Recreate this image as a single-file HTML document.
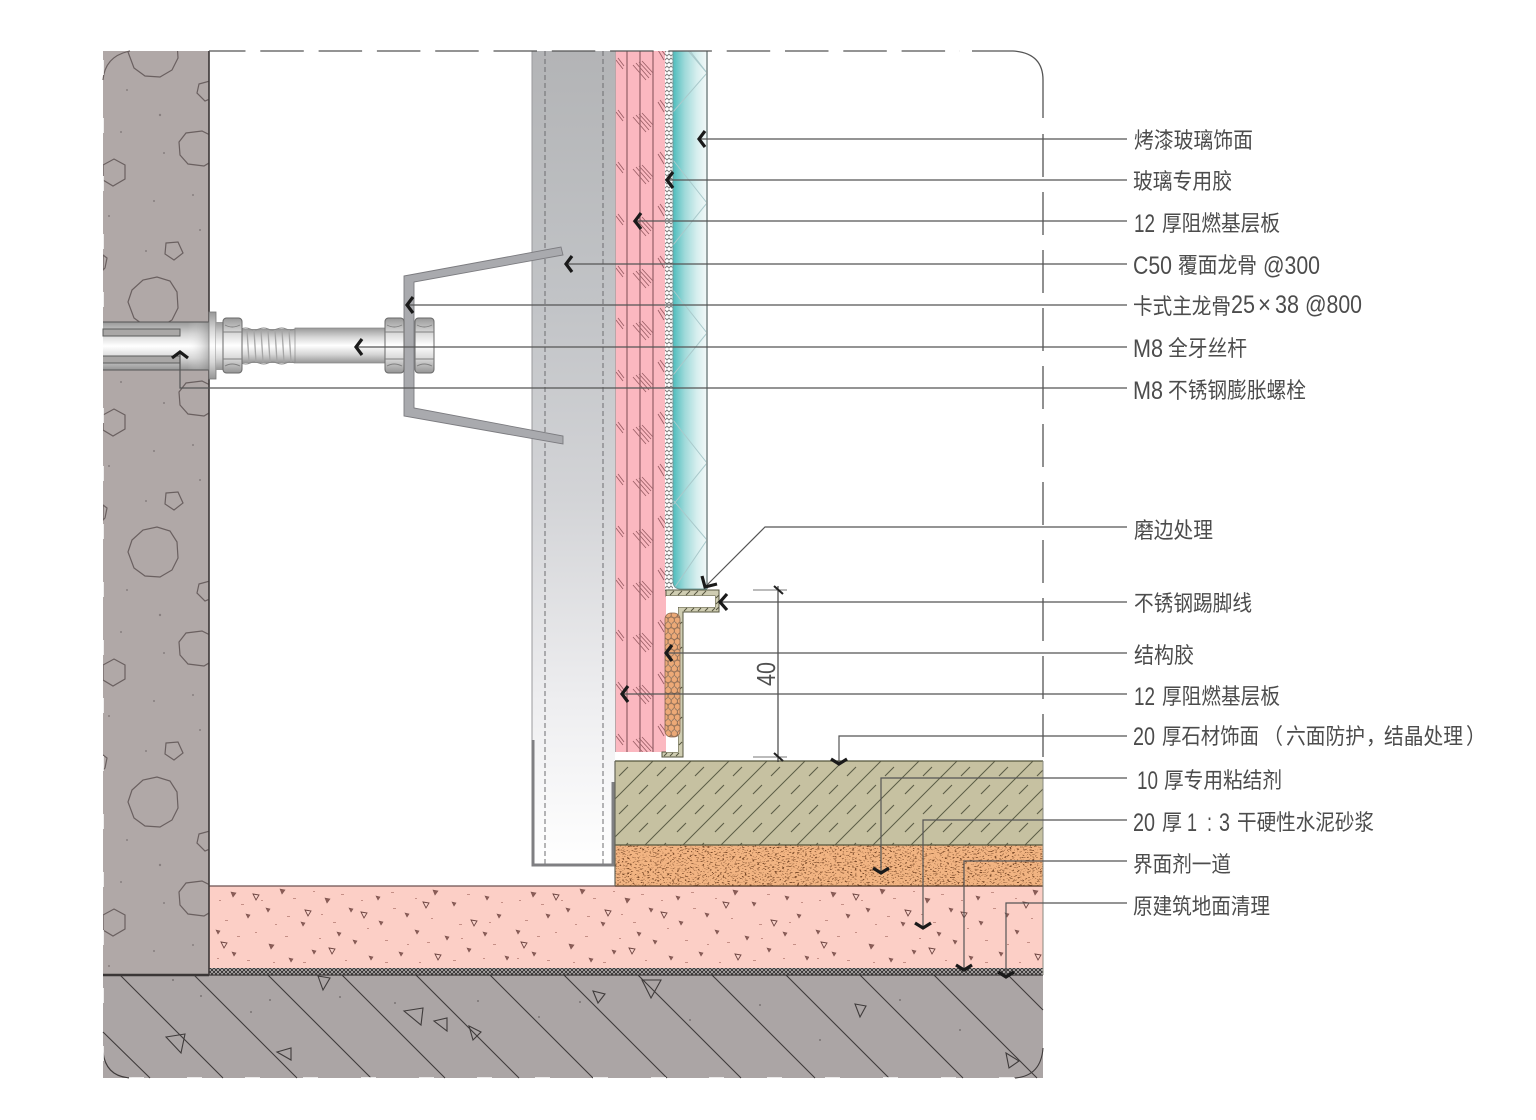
<!DOCTYPE html>
<html lang="zh">
<head>
<meta charset="utf-8">
<title>Wall base detail</title>
<style>
html,body{margin:0;padding:0;background:#fff;width:1536px;height:1120px;overflow:hidden}
svg{display:block}
.l text,.l{font-family:"Liberation Sans","Noto Sans CJK SC",sans-serif;font-size:22px;fill:#4c4c4c}
.l .n{font-family:"Liberation Sans",sans-serif;font-size:25px}
.lead{fill:none;stroke:#555;stroke-width:1.2}
.ar{fill:none;stroke:#1a1a1a;stroke-width:3.2}
</style>
</head>
<body>
<svg width="1536" height="1120" viewBox="0 0 1536 1120" xmlns="http://www.w3.org/2000/svg">
<defs>
<linearGradient id="steel" x1="0" y1="51" x2="0" y2="866" gradientUnits="userSpaceOnUse">
<stop offset="0" stop-color="#b3b4b6"/><stop offset=".3" stop-color="#c1c3c6"/><stop offset=".55" stop-color="#d3d4d7"/><stop offset=".8" stop-color="#eeeef0"/><stop offset="1" stop-color="#ffffff"/>
</linearGradient>
<linearGradient id="glass" x1="673" y1="0" x2="707" y2="0" gradientUnits="userSpaceOnUse">
<stop offset="0" stop-color="#4dbdbd"/><stop offset=".35" stop-color="#a0dada"/><stop offset=".7" stop-color="#d6eeee"/><stop offset="1" stop-color="#f3f9f9"/>
</linearGradient>
<linearGradient id="bolt" x1="0" y1="0" x2="0" y2="1">
<stop offset="0" stop-color="#989898"/><stop offset=".25" stop-color="#d4d4d4"/><stop offset=".5" stop-color="#ffffff"/><stop offset=".75" stop-color="#d6d6d6"/><stop offset="1" stop-color="#959595"/>
</linearGradient>
<linearGradient id="sleeveH" x1="0" y1="0" x2="1" y2="0">
<stop offset="0" stop-color="#ffffff" stop-opacity="0"/><stop offset=".8" stop-color="#ffffff" stop-opacity="0"/><stop offset="1" stop-color="#8a8a8a" stop-opacity=".5"/>
</linearGradient>
<pattern id="stoneP" width="38" height="38" patternUnits="userSpaceOnUse" x="615" y="761">
<path d="M-2 40 L40 -2 M-2 2 L2 -2 M36 40 L40 36" stroke="#5c5d46" stroke-width="1" fill="none"/>
<path d="M13 6 L4 15 M33 24 L24 33" stroke="#5c5d46" stroke-width="1.1" fill="none"/>
</pattern>
<pattern id="tickP" width="51" height="52" patternUnits="userSpaceOnUse" x="615" y="40">
<g stroke="#9c5f66" stroke-width=".9" fill="none">
<path d="M18 25 L31 40 M21 23 L34 38 M24 22 L36 35 M27 21 L38 33"/>
<path d="M1 20 L8 29 M3 18 L9 26"/>
<path d="M43 10 L49 20 M45 8 L51 16"/>
</g>
</pattern>
<pattern id="glueP" width="12.4" height="10.8" patternUnits="userSpaceOnUse" x="665" y="612">
<rect width="12.4" height="10.8" fill="#e4bd9d"/>
<g fill="#eca977" stroke="#8b6a52" stroke-width=".7">
<circle cx="3.1" cy="2.7" r="3.1"/><circle cx="9.3" cy="2.7" r="3.1"/><circle cx="0" cy="8.1" r="3.1"/><circle cx="6.2" cy="8.1" r="3.1"/><circle cx="12.4" cy="8.1" r="3.1"/>
</g>
</pattern>
<pattern id="dotP" width="8" height="8" patternUnits="userSpaceOnUse" x="665" y="51">
<rect width="8" height="8" fill="#5c5c5c"/>
<g fill="#fff"><circle cx="2" cy="2" r="1.9"/><circle cx="6" cy="2" r="1.9"/><circle cx="4" cy="6" r="1.9"/><circle cx="0" cy="6" r="1.9"/><circle cx="8" cy="6" r="1.9"/></g>
</pattern>
<pattern id="layerP" width="4" height="4" patternUnits="userSpaceOnUse" x="209" y="969">
<rect width="4" height="4" fill="#3f3c3c"/><circle cx="1" cy="1" r=".9" fill="#e6e2e0"/><circle cx="3" cy="3" r=".9" fill="#e6e2e0"/>
</pattern>
<pattern id="pinkP" width="300" height="82" patternUnits="userSpaceOnUse" x="209" y="886">
<g fill="#8c5c56" stroke="#7d5550" stroke-width=".6">
<path d="M22 6l5 1-3 4zM71 3l5 1-3 4zM116 12l5 1-3 4zM57 22l4 1-2 3zM37 28l4 1-2 3zM7 44l4 1-2 3zM92 36l4 1-2 3zM140 22l4 1-2 3zM167 10l4 1-2 3zM196 27l4 1-2 3zM224 4l5 1-3 4zM243 16l4 1-2 3zM276 10l4 1-2 3zM170 35l4 1-2 3zM128 46l4 1-2 3zM60 58l5 1-3 4zM23 66l4 1-2 3zM103 64l4 1-2 3zM144 54l4 1-2 3zM206 44l4 1-2 3zM236 50l4 1-2 3zM274 46l4 1-2 3zM288 28l4 1-2 3zM258 62l4 1-2 3zM190 66l4 1-2 3zM160 70l4 1-2 3zM80 72l4 1-2 3zM296 70l4 1-2 3z"/>
</g>
<g fill="#fbd4cc" stroke="#6d4440" stroke-width=".9">
<path d="M44 8l6 1-3 5zM96 24l6 1-3 5zM152 26l6 1-3 5zM12 56l6 1-3 5zM214 16l6 1-3 5zM262 34l6 1-3 5zM120 62l6 1-3 5zM226 68l6 1-3 5z"/>
</g>
<g fill="#c58f86">
<path d="M10 14h2v1h-2zM32 18h3v1h-3zM52 14h2v1h-2zM84 12h3v1h-3zM104 5h2v1h-2zM132 8h3v1h-3zM152 14h2v1h-2zM182 6h3v1h-3zM206 12h2v1h-2zM258 8h3v1h-3zM292 16h2v1h-2zM16 34h3v1h-3zM66 38h2v1h-2zM78 30h3v1h-3zM112 28h2v1h-2zM124 36h3v1h-3zM158 42h2v1h-2zM184 22h3v1h-3zM222 32h2v1h-2zM250 38h3v1h-3zM280 36h2v1h-2zM28 50h3v1h-3zM46 46h2v1h-2zM76 50h3v1h-3zM110 52h2v1h-2zM176 54h3v1h-3zM198 58h2v1h-2zM218 56h3v1h-3zM252 52h2v1h-2zM284 58h3v1h-3zM8 72h2v1h-2zM38 74h3v1h-3zM64 76h2v1h-2zM94 76h3v1h-3zM136 74h2v1h-2zM176 76h3v1h-3zM210 76h2v1h-2zM244 74h3v1h-3zM274 72h2v1h-2z"/>
</g>
</pattern>
<filter id="orangeF" x="0" y="0" width="100%" height="100%" color-interpolation-filters="sRGB">
<feTurbulence type="fractalNoise" baseFrequency="0.4 0.8" numOctaves="2" seed="7"/>
<feColorMatrix type="matrix" values="0 0 0 0 .48  0 0 0 0 .29  0 0 0 0 .16  9 0 0 0 -5.2"/>
</filter>
<g id="conc" fill="none" stroke="#6a6060" stroke-width="1.2">
<polygon points="128,52 132,40 143,30 157,27 170,31 177,42 178,58 172,70 160,77 145,76 134,68"/>
<polygon points="199,84 210,81 212,98 205,101 197,93"/>
<polygon points="179,142 186,133 202,131 214,137 214,160 204,166 188,164 180,155"/>
<polygon points="103,165 114,159 125,165 125,179 113,186 103,180"/>
<polygon points="166,243 178,242 183,253 174,260 165,254"/>
<polygon points="103,255 107,258 105,268 103,270"/>
<g fill="#7e7676" stroke="none" opacity=".8">
<circle cx="127" cy="90" r="1"/><circle cx="160" cy="115" r="1.2"/><circle cx="121" cy="132" r="1"/><circle cx="164" cy="153" r="1"/><circle cx="193" cy="195" r="1"/><circle cx="154" cy="201" r="1"/><circle cx="109" cy="216" r="1"/><circle cx="146" cy="251" r="1"/><circle cx="200" cy="230" r="1"/>
</g>
</g>
<clipPath id="wallC"><rect x="103" y="51" width="106" height="924"/></clipPath>
<clipPath id="glassC"><path d="M673 51H707V589H681Q673 589 673 581Z"/></clipPath>
<g id="nut">
<rect x="0" y="0" width="19" height="55" rx="3.5" fill="url(#bolt)" stroke="#6a6a6a" stroke-width="1"/>
<path d="M0 14H19M0 41H19M2 7Q9 11 17 7M2 48Q9 44 17 48" fill="none" stroke="#808080" stroke-width=".9"/>
</g>
</defs>

<!-- concrete wall -->
<rect x="103" y="51" width="106" height="924" fill="#b0a8a7"/>
<g clip-path="url(#wallC)">
<use href="#conc"/>
<use href="#conc" y="250"/>
<use href="#conc" y="500"/>
<use href="#conc" y="750"/>
</g>
<path d="M103 80Q105 56 130 51" fill="none" stroke="#6a6060" stroke-width="1.2"/>
<!-- floor slab -->
<rect x="103" y="975" width="940" height="103" fill="#aba5a5"/>
<g fill="none" stroke="#3f3b3b" stroke-width="1.1">
<path d="M103 1032L150 1078M120 975L223 1078M194 975L297 1078M268 975L371 1078M342 975L445 1078M416 975L519 1078M490 975L593 1078M564 975L667 1078M638 975L741 1078M712 975L815 1078M786 975L889 1078M860 975L963 1078M934 975L1037 1078M1008 975L1043 1010"/>
</g>
<g fill="none" stroke="#3f3b3b" stroke-width="1.1">
<path d="M103 1052Q106 1078 133 1078"/>
<path d="M1043 1048Q1041 1076 1015 1078"/>
<polygon points="166,1037 185,1034 181,1053"/>
<polygon points="277,1052 291,1048 291,1060"/>
<polygon points="318,976 330,978 323,990"/>
<polygon points="404,1011 423,1008 421,1025"/>
<polygon points="434,1021 447,1018 447,1031"/>
<polygon points="469,1026 481,1032 473,1040"/>
<polygon points="593,991 605,994 598,1003"/>
<polygon points="642,980 661,980 651,998"/>
<polygon points="855,1004 866,1006 860,1017"/>
<polygon points="1006,1053 1019,1061 1009,1068"/>
</g>
<g fill="#7b7474">
<circle cx="173" cy="980" r="1"/><circle cx="201" cy="996" r="1"/><circle cx="251" cy="1012" r="1"/><circle cx="270" cy="1000" r="1"/><circle cx="340" cy="997" r="1"/><circle cx="395" cy="1003" r="1"/><circle cx="478" cy="1001" r="1"/><circle cx="539" cy="1017" r="1"/><circle cx="580" cy="1002" r="1"/><circle cx="690" cy="1020" r="1"/><circle cx="760" cy="1005" r="1"/><circle cx="820" cy="1040" r="1"/><circle cx="900" cy="1000" r="1"/><circle cx="960" cy="1030" r="1"/>
</g>
<path d="M103 60V1078H1043" fill="none" stroke="#fff" stroke-width="1.6" stroke-dasharray="15 43"/>

<!-- steel stud -->
<rect x="532" y="51" width="83" height="815" fill="url(#steel)"/>
<path d="M532 51V740" stroke="#9a9a9c" stroke-width="1"/>
<path d="M545 51V864M603 51V864" stroke="#6d6d70" stroke-width="1" stroke-dasharray="5 3" fill="none"/>
<path d="M533 740V865H613V782" fill="none" stroke="#7f7f82" stroke-width="3"/>

<!-- pink board -->
<rect x="615" y="51" width="51" height="701" fill="#fbb8c0"/>
<rect x="615" y="51" width="51" height="701" fill="url(#tickP)"/>
<path d="M627 51V752M640 51V752M653 51V752" stroke="#9a666c" stroke-width="1.3" fill="none"/>
<path d="M615.5 51V752" stroke="#b9a6a8" stroke-width="1"/>

<!-- adhesive dots -->
<rect x="665" y="51" width="8" height="540" fill="url(#dotP)"/>

<!-- glass -->
<path d="M673 51H707V589H681Q673 589 673 581Z" fill="url(#glass)"/>
<g clip-path="url(#glassC)" stroke="#a9c9cb" stroke-width="1" fill="none">
<path d="M690 51L707 73L673 112M673 33L707 73M707 203L673 160M707 203L673 245M707 333L673 290M707 333L673 375M707 463L673 420M707 463L673 505M707 540L673 590M707 540L673 500"/>
</g>
<path d="M707 51V589" stroke="#8f9a9a" stroke-width="1.8"/>
<path d="M673 51V581Q673 589 681 589H707" fill="none" stroke="#6f9a9a" stroke-width="1"/>

<!-- stainless skirting -->
<path d="M666 590H719V612H683V757H662V752H678V607H715V596H666Z" fill="#cfcdb2" stroke="#55553f" stroke-width="1"/>
<path d="M666 596H715V607H678V752H666Z" fill="#fff"/>
<path d="M670 595l4-4M678 595l4-4M686 595l4-4M694 595l4-4M702 595l4-4M716 598l3-3M716 604l3-3M716 610l3-3M684 611l3-3M691 611l3-3M698 611l3-3M705 611l3-3M712 611l3-3M679 625l3-3M679 650l3-3M679 690l3-3M679 720l3-3M679 745l3-3M664 756l3-3M670 756l3-3M676 756l3-3" stroke="#55553f" stroke-width="1"/>

<!-- glue -->
<rect x="665" y="613" width="15" height="124" rx="6" fill="url(#glueP)" stroke="#8b6a52" stroke-width=".8"/>

<!-- floor layers -->
<rect x="209" y="886" width="834" height="83" fill="#fccfc6"/>
<rect x="209" y="886" width="834" height="83" fill="url(#pinkP)"/>
<rect x="209" y="968" width="834" height="7" fill="url(#layerP)"/>
<path d="M209 975H1043" stroke="#3a3636" stroke-width="1.2"/>
<path d="M103 975H209" stroke="#3a3636" stroke-width="2.4"/>
<path d="M209 886H1043" stroke="#6b5250" stroke-width="1.3"/>

<rect x="615" y="845" width="428" height="41" fill="#f2b482"/>
<rect x="615" y="845" width="428" height="41" filter="url(#orangeF)"/>
<path d="M615 886H1043" stroke="#5a3d2a" stroke-width="1.2"/>

<rect x="615" y="761" width="428" height="84" fill="#c6c1a1"/>
<rect x="615" y="761" width="428" height="84" fill="url(#stoneP)"/>
<path d="M615 761H1043M615 845H1043" stroke="#55563e" stroke-width="1.3"/>
<path d="M615 761V886" stroke="#65655a" stroke-width="1.2"/>
<path d="M1043 761V975" stroke="#8a8a80" stroke-width="1"/>
<path d="M209 51V975" stroke="#3b3636" stroke-width="1.6"/>

<!-- frame -->
<path d="M209 51H960" fill="none" stroke="#555" stroke-width="1.3" stroke-dasharray="43.5 14.8" stroke-dashoffset="7"/>
<path d="M972 51H1013Q1043 53 1043 80V118" fill="none" stroke="#555" stroke-width="1.3"/>
<path d="M1043 134V761" fill="none" stroke="#555" stroke-width="1.3" stroke-dasharray="43 15"/>

<!-- bracket -->
<polygon points="404,276 561,247 563,255 414,282 414,408 563,436 563,444 404,416" fill="#a9aaae" stroke="#7c7c80" stroke-width=".9"/>

<!-- bolt -->
<rect x="103" y="322" width="106" height="48" fill="url(#bolt)"/>
<rect x="103" y="322" width="106" height="48" fill="url(#sleeveH)"/>
<path d="M103 322H209M103 370H209" stroke="#555" stroke-width="1"/>
<rect x="103" y="329" width="77" height="7" fill="#a9a7a6" stroke="#5c5c5c" stroke-width="1"/>
<path d="M103 356H180V363H103" fill="#a9a7a6" stroke="#5c5c5c" stroke-width="1"/>
<rect x="209" y="312" width="7" height="67" fill="url(#bolt)" stroke="#777" stroke-width=".8"/>
<rect x="216" y="322" width="8" height="48" fill="url(#bolt)"/>
<rect x="241" y="329" width="55" height="34" fill="url(#bolt)"/>
<path d="M241 329q5 -2 9 0t9 0t9 0t9 0t9 0t9 0M241 363q5 2 9 0t9 0t9 0t9 0t9 0t9 0" fill="none" stroke="#888" stroke-width="1"/>
<path d="M247 330l2 32M254 330l2 32M261 330l2 32M268 330l2 32M275 330l2 32M282 330l2 32M289 330l2 32" stroke="#a6a6a6" stroke-width="1.3" fill="none"/>
<rect x="295" y="328" width="91" height="35" fill="url(#bolt)" stroke="#888" stroke-width=".7"/>
<use href="#nut" x="223" y="318"/>
<use href="#nut" x="385" y="318"/>
<use href="#nut" x="415" y="318"/>

<!-- dimension -->
<g fill="none" stroke="#333" stroke-width="1.1">
<path d="M778 586V762"/>
<path d="M753 590H787M753 757H787" stroke="#777"/>
<path d="M774 586L783 594M774 753L783 761" stroke="#222" stroke-width="2"/>
</g>
<text x="775" y="674" text-anchor="middle" fill="#505050" transform="rotate(-90 775 674)" font-family="'Liberation Sans',sans-serif" font-size="26" textLength="24" lengthAdjust="spacingAndGlyphs">40</text>

<!-- leaders -->
<path class="lead" d="M700 139H1127M668 180H1127M636 221H1127M567 264H1127M408 305H1127M357 347H1127M180 352V388H1127M705 587L765 527H1127M720 602H1127M666 653H1127M622 694H1127M839 764V736H1127M881 873V778H1127M923 928V820H1127M964 970V861H1127M1006 977V903H1127"/>
<!-- arrowheads -->
<g class="ar">
<path d="M705 131L699 139L705 147"/>
<path d="M673 172L667 180L673 188"/>
<path d="M641 213L635 221L641 229"/>
<path d="M572 256L566 264L572 272"/>
<path d="M413 297L407 305L413 313"/>
<path d="M362 339L356 347L362 355"/>
<path d="M172 358L180 352L188 358"/>
<path d="M702 576L705 587L717 584"/>
<path d="M727 594L720 602L727 610"/>
<path d="M672 645L666 653L672 661"/>
<path d="M628 686L622 694L628 702"/>
<path d="M831 759L839 764L847 759"/>
<path d="M873 868L881 873L889 868"/>
<path d="M915 923L923 928L931 923"/>
<path d="M956 965L964 970L972 965"/>
<path d="M998 972L1006 977L1014 972"/>
</g>

<!-- labels: each run has an exact position and width -->
<g class="l">
<text x="1134" y="148" textLength="119" lengthAdjust="spacingAndGlyphs">烤漆玻璃饰面</text>
<text x="1133" y="189" textLength="99" lengthAdjust="spacingAndGlyphs">玻璃专用胶</text>

<text class="n" x="1134" y="232" textLength="21" lengthAdjust="spacingAndGlyphs">12</text>
<text x="1162" y="231" textLength="118" lengthAdjust="spacingAndGlyphs">厚阻燃基层板</text>

<text class="n" x="1133" y="274" textLength="39" lengthAdjust="spacingAndGlyphs">C50</text>
<text x="1178" y="273" textLength="79" lengthAdjust="spacingAndGlyphs">覆面龙骨</text>
<text class="n" x="1263" y="274" textLength="57" lengthAdjust="spacingAndGlyphs">@300</text>

<text x="1133" y="314" textLength="98" lengthAdjust="spacingAndGlyphs">卡式主龙骨</text>
<text class="n" x="1231" y="313" textLength="24" lengthAdjust="spacingAndGlyphs">25</text>
<text class="n" x="1258" y="313" textLength="13" lengthAdjust="spacingAndGlyphs">×</text>
<text class="n" x="1275" y="313" textLength="24" lengthAdjust="spacingAndGlyphs">38</text>
<text class="n" x="1305" y="313" textLength="57" lengthAdjust="spacingAndGlyphs">@800</text>

<text class="n" x="1133" y="357" textLength="30" lengthAdjust="spacingAndGlyphs">M8</text>
<text x="1168" y="356" textLength="79" lengthAdjust="spacingAndGlyphs">全牙丝杆</text>

<text class="n" x="1133" y="399" textLength="30" lengthAdjust="spacingAndGlyphs">M8</text>
<text x="1168" y="398" textLength="138" lengthAdjust="spacingAndGlyphs">不锈钢膨胀螺栓</text>

<text x="1134" y="538" textLength="79" lengthAdjust="spacingAndGlyphs">磨边处理</text>
<text x="1134" y="611" textLength="118" lengthAdjust="spacingAndGlyphs">不锈钢踢脚线</text>
<text x="1134" y="663" textLength="60" lengthAdjust="spacingAndGlyphs">结构胶</text>

<text class="n" x="1134" y="705" textLength="21" lengthAdjust="spacingAndGlyphs">12</text>
<text x="1162" y="704" textLength="118" lengthAdjust="spacingAndGlyphs">厚阻燃基层板</text>

<text class="n" x="1133" y="745" textLength="22" lengthAdjust="spacingAndGlyphs">20</text>
<text x="1162" y="744" textLength="97" lengthAdjust="spacingAndGlyphs">厚石材饰面</text>
<text x="1263" y="744" textLength="20" lengthAdjust="spacingAndGlyphs">（</text>
<text x="1286" y="744" textLength="79" lengthAdjust="spacingAndGlyphs">六面防护</text>
<text x="1366" y="744" textLength="20" lengthAdjust="spacingAndGlyphs">，</text>
<text x="1384" y="744" textLength="79" lengthAdjust="spacingAndGlyphs">结晶处理</text>
<text x="1466" y="744" textLength="20" lengthAdjust="spacingAndGlyphs">）</text>

<text class="n" x="1137" y="789" textLength="21" lengthAdjust="spacingAndGlyphs">10</text>
<text x="1164" y="788" textLength="118" lengthAdjust="spacingAndGlyphs">厚专用粘结剂</text>

<text class="n" x="1133" y="831" textLength="22" lengthAdjust="spacingAndGlyphs">20</text>
<text x="1162" y="830" textLength="20" lengthAdjust="spacingAndGlyphs">厚</text>
<text class="n" x="1187" y="831" textLength="10" lengthAdjust="spacingAndGlyphs">1</text>
<text class="n" x="1207" y="831" textLength="5" lengthAdjust="spacingAndGlyphs">:</text>
<text class="n" x="1219" y="831" textLength="11" lengthAdjust="spacingAndGlyphs">3</text>
<text x="1237" y="830" textLength="137" lengthAdjust="spacingAndGlyphs">干硬性水泥砂浆</text>

<text x="1133" y="872" textLength="98" lengthAdjust="spacingAndGlyphs">界面剂一道</text>
<text x="1133" y="914" textLength="137" lengthAdjust="spacingAndGlyphs">原建筑地面清理</text>
</g>
</svg>
</body>
</html>
